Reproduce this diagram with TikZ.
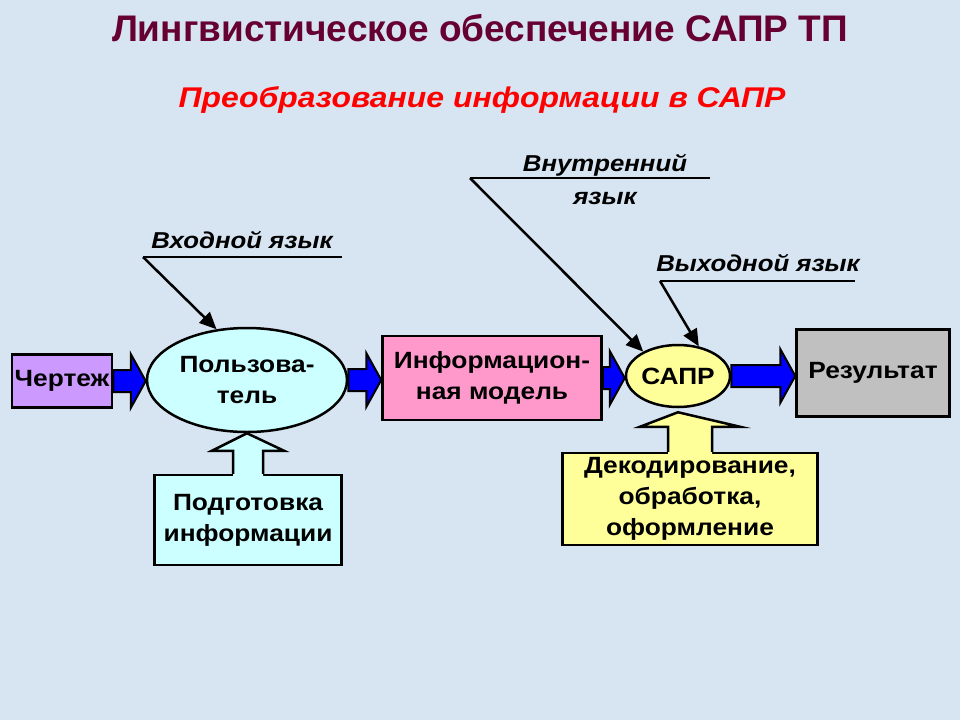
\documentclass[tikz,border=0pt]{standalone}
\usepackage{fontspec}
\setmainfont{Liberation Sans}
\newfontfamily\wideface[FakeStretch=1.12]{Liberation Sans}
\usetikzlibrary{shapes.geometric}
\usetikzlibrary{arrows.meta}
\usetikzlibrary{calc}
\usepackage{xcolor}

\definecolor{bgblue}{HTML}{D7E4F1}
\definecolor{titlered}{HTML}{660033}
\definecolor{draftpurple}{HTML}{CC99FF}
\definecolor{usercyan}{HTML}{CCFFFF}
\definecolor{modelpink}{HTML}{FF99CC}
\definecolor{saprYellow}{HTML}{FFFF99}
\definecolor{resultgray}{HTML}{C0C0C0}
\definecolor{flowblue}{HTML}{0000FF}

% blue block arrow from the east side of #1 to the west side of #2
\newcommand{\blockflow}[2]{%
  \path (#1.east) coordinate (fs) (#2.west |- #1.east) coordinate (fe);
  \filldraw[fill=flowblue, line width=2pt, line join=miter]
    ($(fs)+(0,-11)$) -- ($(fe)+(-15,-11)$) -- ($(fe)+(-15,-27)$) -- (fe)
    -- ($(fe)+(-15,27)$) -- ($(fe)+(-15,11)$) -- ($(fs)+(0,11)$) -- cycle;}

% wide up arrow from the top of box #1 to node #2
% #3 fill, #4 shaft half width, #5 head half width, #6 shaft length, #7 tip gap
\newcommand{\uparrowcallout}[7]{%
  \path (#1.north) coordinate (cb) ($(#2.south)+(0,#7)$) coordinate (ct);
  \fill[#3] ($(cb)+(-#4,3)$) -- ($(cb)+(-#4,-#6)$) -- ($(cb)+(-#5,-#6)$) -- (ct)
    -- ($(cb)+(#5,-#6)$) -- ($(cb)+(#4,-#6)$) -- ($(cb)+(#4,3)$) -- cycle;
  \draw[line width=2.5pt, line join=miter] ($(cb)+(-#4,0)$) -- ($(cb)+(-#4,-#6)$)
    -- ($(cb)+(-#5,-#6)$) -- (ct) -- ($(cb)+(#5,-#6)$) -- ($(cb)+(#4,-#6)$)
    -- ($(cb)+(#4,0)$);}

\begin{document}
\begin{tikzpicture}[x=1pt, y=-1pt,
    box/.style={draw=black, line width=2.5pt, inner sep=0pt, align=center,
      font=\wideface\bfseries\fontsize{23.5}{31}\selectfont},
    lang/.style={align=center, font=\wideface\bfseries\itshape\fontsize{23}{33}\selectfont},
    pointer/.style={line width=2.5pt, -{Triangle[length=17pt,width=15pt]}},
    bar/.style={line width=2.5pt}]

    \fill[bgblue] (0,0) rectangle (960,720);
    \useasboundingbox (0,0) rectangle (960,720);

    % headings
    \node[text=titlered, font=\bfseries\fontsize{37}{42}\selectfont] (title) at (480,28)
        {Лингвистическое обеспечение САПР ТП};
    \node[text=red, font=\wideface\bfseries\itshape\fontsize{28.5}{33}\selectfont] (subtitle) at (482,100)
        {Преобразование информации в САПР};

    % main chain
    \node[box, fill=draftpurple, minimum width=100pt, minimum height=53pt] (draft) at (62,381) {Чертеж};
    \node[box, ellipse, fill=usercyan, minimum width=200pt, minimum height=104pt] (user) at (247,380)
        {Пользова-\\тель};
    \node[box, fill=modelpink, minimum width=219pt, minimum height=84pt] (model) at (492,378)
        {Информацион-\\ная модель};
    \node[box, ellipse, fill=saprYellow, minimum width=104pt, minimum height=62pt] (sapr) at (678,376) {САПР};
    \node[box, fill=resultgray, minimum width=153pt, minimum height=87pt] (result) at (873,373) {Результат};

    \blockflow{draft}{user}
    \blockflow{user}{model}
    \blockflow{model}{sapr}
    \blockflow{sapr}{result}

    % boxes below
    \node[box, fill=usercyan, minimum width=187pt, minimum height=90pt] (prep) at (248,520)
        {Подготовка\\информации};
    \node[box, fill=saprYellow, minimum width=255pt, minimum height=92pt] (decode) at (690,499)
        {Декодирование,\\обработка,\\оформление};

    \uparrowcallout{prep}{user}{usercyan}{15}{36}{23}{0}
    \uparrowcallout{decode}{sapr}{saprYellow}{22}{50}{25}{4}

    % languages
    \node[lang] (inlang) at (242,240) {Входной язык};
    \coordinate (inA) at (143,257);
    \coordinate (inB) at (342,257);
    \draw[bar] (inA) -- (inB);
    \draw[pointer] (inA) -- (user.121);

    \node[lang] (midlang) at (605,180) {Внутренний\\язык};
    \coordinate (midA) at (470,178);
    \coordinate (midB) at (710,178);
    \draw[bar] (midA) -- (midB);
    \draw[pointer] (midA) -- (sapr.145);

    \node[lang] (outlang) at (758,263) {Выходной язык};
    \coordinate (outA) at (660,281);
    \coordinate (outB) at (855,281);
    \draw[bar] (outA) -- (outB);
    \draw[pointer] (outA) -- (sapr.55);
\end{tikzpicture}
\end{document}
